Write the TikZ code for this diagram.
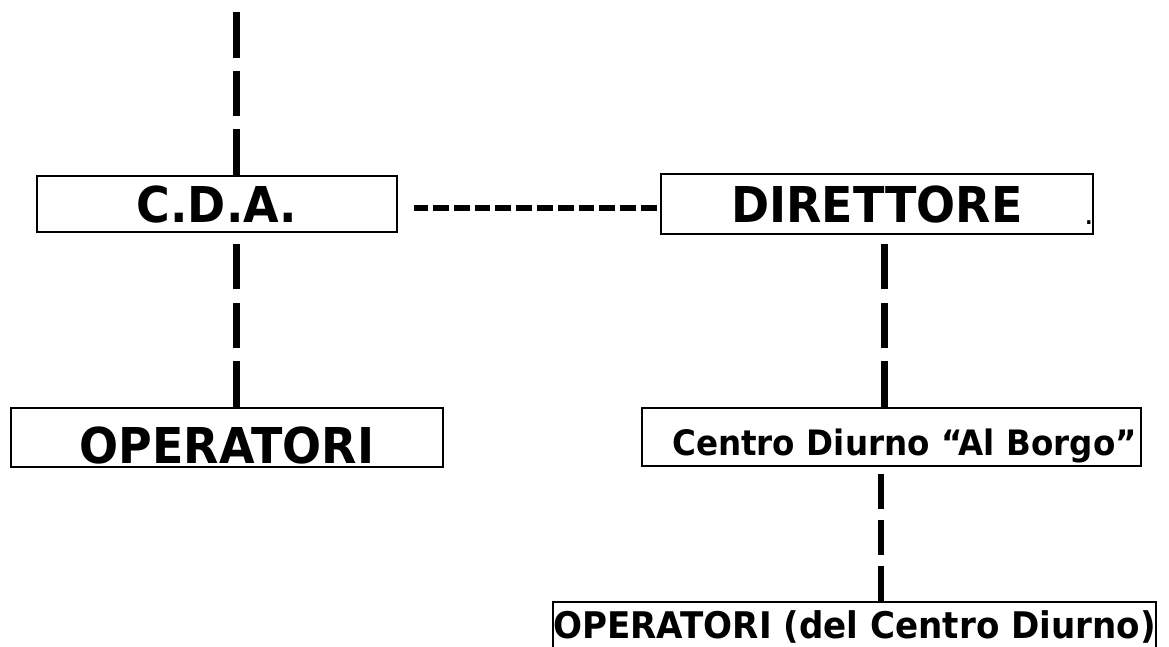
\documentclass[tikz,border=0pt]{standalone}
\usepackage{fontspec}
\newfontfamily\orgfont{DejaVu Sans}[FakeStretch=0.93]
\begin{document}
\begin{tikzpicture}[x=1pt,y=-1pt,
  box/.style={draw,line width=2.5pt,inner sep=0pt,text height=#1,text depth=0pt},
  box/.default=36pt,
  bigtxt/.style={font={\orgfont\bfseries\fontsize{49.4}{50}\selectfont}},
  midtxt/.style={font={\orgfont\bfseries\fontsize{35}{36}\selectfont}},
  lowtxt/.style={font={\orgfont\bfseries\fontsize{36.7}{37}\selectfont}},
  link/.style={line width=7pt,dash pattern=on 45.5pt off 13.2pt},
  sublink/.style={line width=6pt,dash pattern=on 34.5pt off 11.5pt},
  peer/.style={line width=6pt,dash pattern=on 15.8pt off 5pt}]
\useasboundingbox (0,0) rectangle (1169,646);
\node[box,bigtxt,minimum width=360pt,minimum height=56pt] (cda) at (217,204) {C.D.A.};
\node[box,bigtxt,minimum width=432pt,minimum height=60pt] (dir) at (877,204) {DIRETTORE};
\node[font={\orgfont\bfseries\fontsize{20}{20}\selectfont},inner sep=0pt,anchor=base] (dirdot) at (1089,224) {.};
\node[box=51pt,bigtxt,minimum width=432pt,minimum height=59pt] (op1) at (227,437.5) {OPERATORI};
\node[box=36pt,midtxt,minimum width=499pt,minimum height=58pt,text width=491pt,align=right] (centro) at (891.5,437) {Centro Diurno “Al Borgo”};
\node[box=26.8pt,lowtxt,minimum width=603pt,minimum height=60pt,text depth=13pt] (op2) at (854.5,632) {OPERATORI (del Centro Diurno)};
% line positions
\coordinate (top) at (236,12);
\coordinate (dx) at (884,0);
\coordinate (ex) at (881,0);
\draw[link] (top) -- (top |- cda.north);
\draw[link] (op1.north -| top) -- (cda.south -| top);
\draw[peer,shorten <=3pt,shorten >=16pt] ([yshift=-4pt]dir.west) -- ([yshift=-4pt]cda.east);
\draw[link] (centro.north -| dx) -- (dir.south -| dx);
\draw[sublink] (op2.north -| ex) -- (centro.south -| ex);
\end{tikzpicture}
\end{document}
